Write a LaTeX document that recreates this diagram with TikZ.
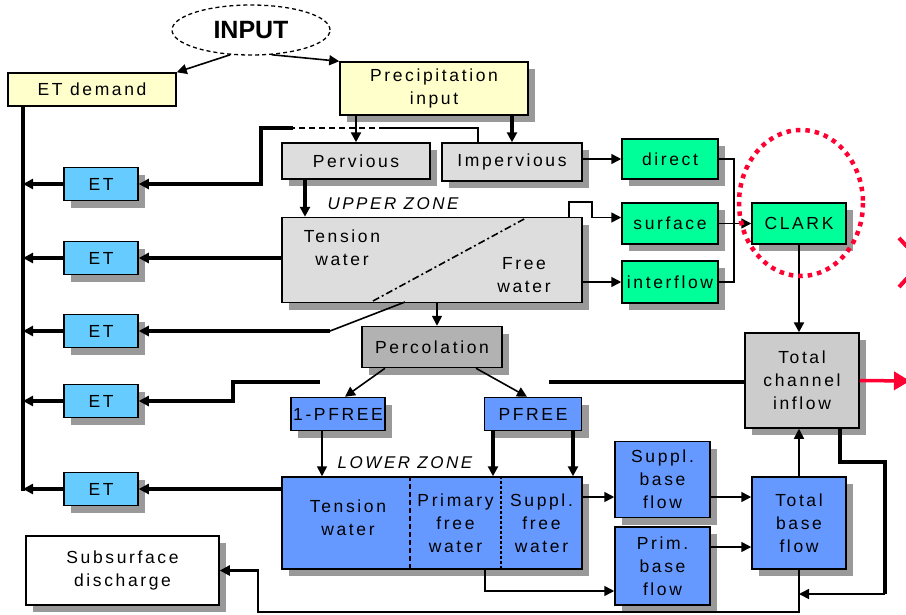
\documentclass[tikz,border=0pt]{standalone}
\usepackage{fontspec}
\setmainfont[LetterSpace=15]{Liberation Sans}
\newfontfamily\titlefont{Liberation Sans}
\usetikzlibrary{arrows.meta,shadows,shapes.geometric}
\definecolor{paleyellow}{HTML}{FFFFCC}
\definecolor{zonegray}{HTML}{DDDDDD}
\definecolor{percgray}{HTML}{B2B2B2}
\definecolor{chanelgray}{HTML}{CCCCCC}
\definecolor{flowgreen}{HTML}{00FF99}
\definecolor{etblue}{HTML}{66CCFF}
\definecolor{basinblue}{HTML}{6699FF}
\definecolor{shadowgray}{HTML}{999999}
\definecolor{alertred}{HTML}{FF0033}

\begin{document}
\begin{tikzpicture}[x=1pt,y=-1pt,>={Triangle[length=10pt,width=10pt]},
    box/.style={draw,line width=1.5pt,inner sep=0pt,align=center,font=\fontsize{17.5}{23}\selectfont},
    txt/.style={inner sep=0pt,align=center,font=\fontsize{17.5}{23}\selectfont},
    zonelabel/.style={inner sep=0pt,font=\fontsize{17}{23}\selectfont\itshape},
    dropped/.style={drop shadow={shadow xshift=7pt,shadow yshift=-7pt,fill=shadowgray,opacity=1}},
    sz/.style 2 args={minimum width=#1pt,minimum height=#2pt},
    fineline/.style={line width=1.6pt},
    midline/.style={line width=2.4pt},
    heavyline/.style={line width=3.6pt}]
    \useasboundingbox (0,0) rectangle (906,614);

    % input and forcing
    \node[draw,ellipse,line width=1.3pt,dash pattern=on 4pt off 3pt,sz={158}{50},inner sep=0pt,
          font=\titlefont\bfseries\fontsize{25}{28}\selectfont] (input) at (251,30) {INPUT};
    \node[box,fill=paleyellow,sz={168}{33}] (etdemand) at (92,89.5) {ET demand};
    \node[box,dropped,fill=paleyellow,sz={188}{53}] (precip) at (434,88.5) {Precipitation\\input};
    \node[box,dropped,fill=zonegray,sz={148}{36}] (pervious) at (356,161) {Pervious};
    \node[box,dropped,fill=zonegray,sz={140}{38}] (impervious) at (512,162) {Impervious};

    % evapotranspiration
    \node[box,dropped,fill=etblue,sz={74}{33}] (et1) at (101,184) {ET};
    \node[box,dropped,fill=etblue,sz={74}{33}] (et2) at (101,258) {ET};
    \node[box,dropped,fill=etblue,sz={74}{33}] (et3) at (101,331) {ET};
    \node[box,dropped,fill=etblue,sz={74}{33}] (et4) at (101,401) {ET};
    \node[box,dropped,fill=etblue,sz={74}{33}] (et5) at (101,489) {ET};

    % upper zone
    \node[zonelabel] (uzlabel) at (393,204) {UPPER ZONE};
    \node[box,dropped,fill=zonegray,sz={300}{85}] (upper) at (432,260) {};
    \node[txt] (uzten) at (342,248) {Tension\\water};
    \node[txt] (uzfree) at (524,275) {Free\\water};

    % runoff
    \node[box,dropped,fill=flowgreen,sz={96}{40}] (direct) at (670,159) {direct};
    \node[box,dropped,fill=flowgreen,sz={96}{41}] (surface) at (670,223.5) {surface};
    \node[box,dropped,fill=flowgreen,sz={96}{42}] (interflow) at (670,282) {interflow};
    \node[box,dropped,fill=flowgreen,sz={94}{41}] (clark) at (799,223.5) {CLARK};
    \node[box,dropped,fill=chanelgray,sz={114}{95}] (tci) at (802,380.5) {Total\\channel\\inflow};

    % percolation and lower zone
    \node[box,dropped,fill=percgray,sz={140}{41}] (percolation) at (432,347) {Percolation};
    \node[box,dropped,fill=basinblue,sz={94}{33}] (onepfree) at (338,414) {1-PFREE};
    \node[box,dropped,fill=basinblue,sz={97}{33}] (pfree) at (533,414) {PFREE};
    \node[zonelabel] (lzlabel) at (405,463) {LOWER ZONE};
    \node[box,dropped,fill=basinblue,sz={300}{92}] (lower) at (432,523) {};
    \node[txt] (lzten) at (348,518) {Tension\\water};
    \node[txt] (lzprim) at (455.5,523) {Primary\\free\\water};
    \node[txt] (lzsupp) at (541.5,523) {Suppl.\\free\\water};
    \node[box,dropped,fill=basinblue,sz={95}{76}] (supplbase) at (662.5,479.5) {Suppl.\\base\\flow};
    \node[box,dropped,fill=basinblue,sz={95}{78}] (primbase) at (662.5,566) {Prim.\\base\\flow};
    \node[box,dropped,fill=basinblue,sz={94}{92}] (totalbase) at (799,523) {Total\\base\\flow};
    \node[box,dropped,fill=white,sz={193}{69}] (subsurf) at (122.5,570.5) {Subsurface\\discharge};

    % input arrows
    \draw[fineline,->] (input.230) -- (etdemand.north east);
    \draw[fineline,->] (input.-50) -- (precip.north west);
    \draw[midline,->] (precip.south -| pervious) -- (pervious.north);
    \draw[heavyline,->] (precip.south -| impervious) -- (impervious.north);
    \coordinate (pv) at ([xshift=-51pt]pervious.south);
    \draw[heavyline,->] (pv) -- (pv |- upper.north);

    % ET bus
    \coordinate (bus) at (23,491);
    \draw[heavyline] (etdemand.south -| bus) -- (bus);
    \draw[heavyline,->] (et1.west) -- (et1.west -| bus);
    \draw[heavyline,->] (et2.west) -- (et2.west -| bus);
    \draw[heavyline,->] (et3.west) -- (et3.west -| bus);
    \draw[heavyline,->] (et4.west) -- (et4.west -| bus);
    \draw[heavyline,->] (et5.west) -- (et5.west -| bus);

    % ET feeds
    \draw[fineline] ([xshift=-34pt]impervious.north) |- (385,128);
    \draw[fineline,dash pattern=on 6pt off 4pt] (385,128) -- (293,128);
    \draw[heavyline,->] (293,128) -| (261,184) -- (et1.east);
    \draw[heavyline,->] (upper.west |- et2) -- (et2.east);
    \coordinate (diag) at (330,331);
    \draw[fineline] (405,302) -- (diag);
    \draw[heavyline,->] (diag) -- (et3.east);
    \draw[fineline,dash pattern=on 7pt off 3pt on 2pt off 3pt] (373,301) -- (526,218);
    \coordinate (gapR) at (549,382);
    \coordinate (gapL) at (320,382);
    \draw[heavyline] (tci.west |- gapR) -- (gapR);
    \draw[heavyline,->] (gapL) -| (233,401) -- (et4.east);
    \draw[heavyline,->] (lower.west |- et5) -- (et5.east);

    % runoff routing
    \draw[fineline,->] (impervious.east |- direct) -- (direct.west);
    \coordinate (uzs) at ([xshift=-14pt]upper.north east);
    \draw[fineline,->] (uzs) |- (592,202) |- ([yshift=6pt]surface.west);
    \draw[fineline,->] (upper.east |- interflow) -- (interflow.west);
    \draw[fineline] (direct.east) -| ([xshift=15pt]interflow.east) -- (interflow.east);
    \draw[fineline,->] (surface.east) -- (clark.west);
    \draw[midline,->] (clark.south) -- (clark.south |- tci.north);

    % percolation
    \draw[fineline,->] ([xshift=5pt]upper.south) -- ([xshift=5pt]percolation.north);
    \draw[fineline,->] ([xshift=-47pt]percolation.south) -- ([xshift=7pt]onepfree.north);
    \draw[fineline,->] ([xshift=44pt]percolation.south) -- ([xshift=-6pt]pfree.north);
    \coordinate (op) at ([xshift=-16pt]onepfree.south);
    \draw[fineline,->] (op) -- (op |- lower.north);
    \coordinate (pfA) at ([xshift=-40pt]pfree.south);
    \coordinate (pfB) at ([xshift=40pt]pfree.south);
    \draw[heavyline,->] (pfA) -- (pfA |- lower.north);
    \draw[heavyline,->] (pfB) -- (pfB |- lower.north);
    \draw[fineline,dash pattern=on 5pt off 3pt] (lower.north -| 410,0) -- (lower.south -| 410,0);
    \draw[fineline,dash pattern=on 3pt off 2pt] (lower.north -| 501,0) -- (lower.south -| 501,0);

    % baseflow
    \draw[fineline,->] (lower.east |- 0,497) -- (supplbase.west |- 0,497);
    \draw[fineline,->] (supplbase.east |- 0,497) -- (totalbase.west |- 0,497);
    \draw[fineline,->] (primbase.east |- 0,547) -- (totalbase.west |- 0,547);
    \draw[fineline,->] (lower.south -| 485,0) |- (primbase.west |- 0,591);
    \draw[fineline,->] (totalbase.north) -- (totalbase.north |- tci.south);
    \draw[heavyline] ([xshift=38pt]tci.south) |- (885,462) -- (885,594);
    \draw[fineline,->] (885,594) -- (totalbase.south |- 0,594);
    \draw[midline,->] (totalbase.south) |- (258,612) |- (subsurf.east);

    % highlight
    \draw[alertred,line width=4.5pt,dash pattern=on 4.5pt off 5pt] (801,203) ellipse [x radius=62,y radius=73];
    \draw[alertred,line width=3.5pt,-{Triangle[length=16pt,width=18pt]}] (tci.east) -- (910,381);
    \draw[alertred,line width=4pt] (899,238) -- (912,252);
    \draw[alertred,line width=4pt] (899,287) -- (912,273);
\end{tikzpicture}
\end{document}
